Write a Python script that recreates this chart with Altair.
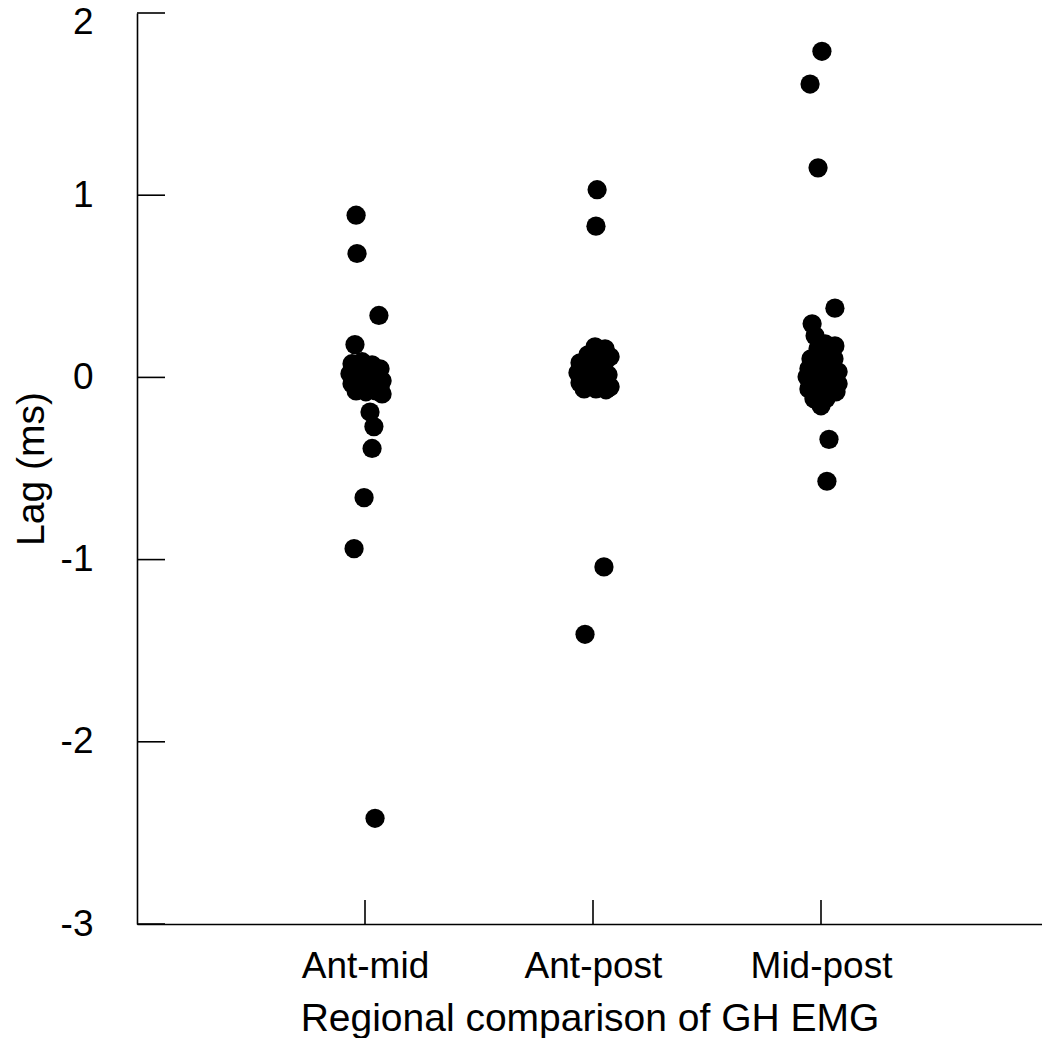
import altair as alt
import pandas as pd

categories = ["Ant-mid", "Ant-post", "Mid-post"]
cat_pos = [1, 2, 3]

am_x = [0.961, 0.965, 1.061, 0.956, 1.022, 1.039, 1.031, 0.996, 0.952, 1.044,
        0.943, 0.987, 1.031, 1.066, 0.934, 0.978, 1.013, 1.057, 1.075, 0.943,
        0.987, 1.022, 1.066, 0.961, 1.004, 1.048, 1.075, 0.969, 1.039, 1.000]
am_y = [0.89, 0.68, 0.34, 0.18, -0.19, -0.27, -0.39, -0.66, -0.94, -2.42,
        0.075, 0.086, 0.069, 0.047, 0.020, 0.031, 0.014, 0.003, -0.019, -0.035,
        -0.024, -0.041, -0.052, -0.074, -0.079, -0.074, -0.091, 0.003, 0.036, 0.058]

ap_x = [2.018, 2.013, 2.048, 1.965,
        2.009, 2.053, 1.978, 2.031, 2.075, 1.943, 1.996, 2.048, 1.934, 1.978,
        2.022, 2.066, 1.943, 1.987, 2.031, 2.075, 1.961, 2.013, 2.057, 2.004]
ap_y = [1.03, 0.83, -1.04, -1.41,
        0.168, 0.157, 0.124, 0.119, 0.113, 0.080, 0.075, 0.069, 0.025, 0.020,
        0.031, 0.014, -0.030, -0.041, -0.024, -0.052, -0.063, -0.063, -0.068, -0.008]

mp_x = [3.004, 2.952, 2.987, 3.061, 3.035, 3.026,
        2.961, 2.974, 3.018, 3.061, 2.956, 3.004, 3.057, 2.947, 2.987, 3.031,
        3.075, 2.956, 2.996, 3.039, 3.075, 2.947, 2.987, 3.039, 3.066, 3.000,
        2.969, 3.022, 3.013, 2.961, 2.987, 3.048, 2.939, 3.022]
mp_y = [1.79, 1.61, 1.15, 0.38, -0.34, -0.57,
        0.294, 0.228, 0.184, 0.173, 0.102, 0.113, 0.102, 0.047, 0.036, 0.047,
        0.031, -0.019, -0.024, -0.013, -0.035, -0.063, -0.074, -0.068, -0.079, -0.156,
        -0.117, 0.146, 0.009, 0.075, 0.157, 0.075, 0.003, -0.117]

y_ticks = [-3, -2, -1, 0, 1, 2]

pts = pd.DataFrame({
    "x": am_x + ap_x + mp_x,
    "y": am_y + ap_y + mp_y,
    "group": [categories[0]] * len(am_x) + [categories[1]] * len(ap_x) + [categories[2]] * len(mp_x),
})

W, H = 905, 911
X_MAX = W / 228.0
FONT = "Liberation Sans"

label_expr = "datum.value == 1 ? 'Ant-mid' : datum.value == 2 ? 'Ant-post' : datum.value == 3 ? 'Mid-post' : ''"

xscale = alt.Scale(domain=[0, X_MAX], nice=False, zero=False)
yscale = alt.Scale(domain=[-3, 2], nice=False, zero=False)

points = alt.Chart(pts).mark_circle(size=370, color="black", opacity=1).encode(
    x=alt.X("x:Q", scale=xscale,
            axis=alt.Axis(values=cat_pos, labelExpr=label_expr, ticks=False, grid=False,
                          title="Regional comparison of GH EMG", labelFontSize=37,
                          titleFontSize=39, labelPadding=24, titlePadding=15,
                          labelFont=FONT, titleFont=FONT, labelColor="black", titleColor="black",
                          titleFontWeight="normal", domainColor="black", domainWidth=1.6)),
    y=alt.Y("y:Q", scale=yscale,
            axis=alt.Axis(values=y_ticks, labelExpr="toString(datum.value)", ticks=False,
                          grid=False, title="Lag (ms)",
                          labelOffset={"condition": {"test": "datum.value == 2", "value": 9}, "value": 0},
                          labelFontSize=37, titleFontSize=39, labelPadding=44, titlePadding=9,
                          labelFont=FONT, titleFont=FONT, labelColor="black", titleColor="black",
                          titleFontWeight="normal", domainColor="black", domainWidth=1.6)),
)

ytick_df = pd.DataFrame({"y": y_ticks})
yticks = alt.Chart(ytick_df).mark_rule(color="black", strokeWidth=1.6).encode(
    y=alt.Y("y:Q", scale=yscale),
    x=alt.value(0),
    x2=alt.value(28),
)

xtick_df = pd.DataFrame({"x": cat_pos})
xticks = alt.Chart(xtick_df).mark_rule(color="black", strokeWidth=1.6).encode(
    x=alt.X("x:Q", scale=xscale),
    y=alt.value(H),
    y2=alt.value(H - 24),
)

chart = alt.layer(points, yticks, xticks).properties(
    width=W, height=H,
    padding={"left": 129, "top": 5, "right": 0, "bottom": 114},
    autosize=alt.AutoSizeParams(type="none"),
).configure_view(stroke=None).configure_axis(labelFont=FONT, titleFont=FONT)

chart.save("out.html", embed_options={"renderer": "svg", "actions": False})
